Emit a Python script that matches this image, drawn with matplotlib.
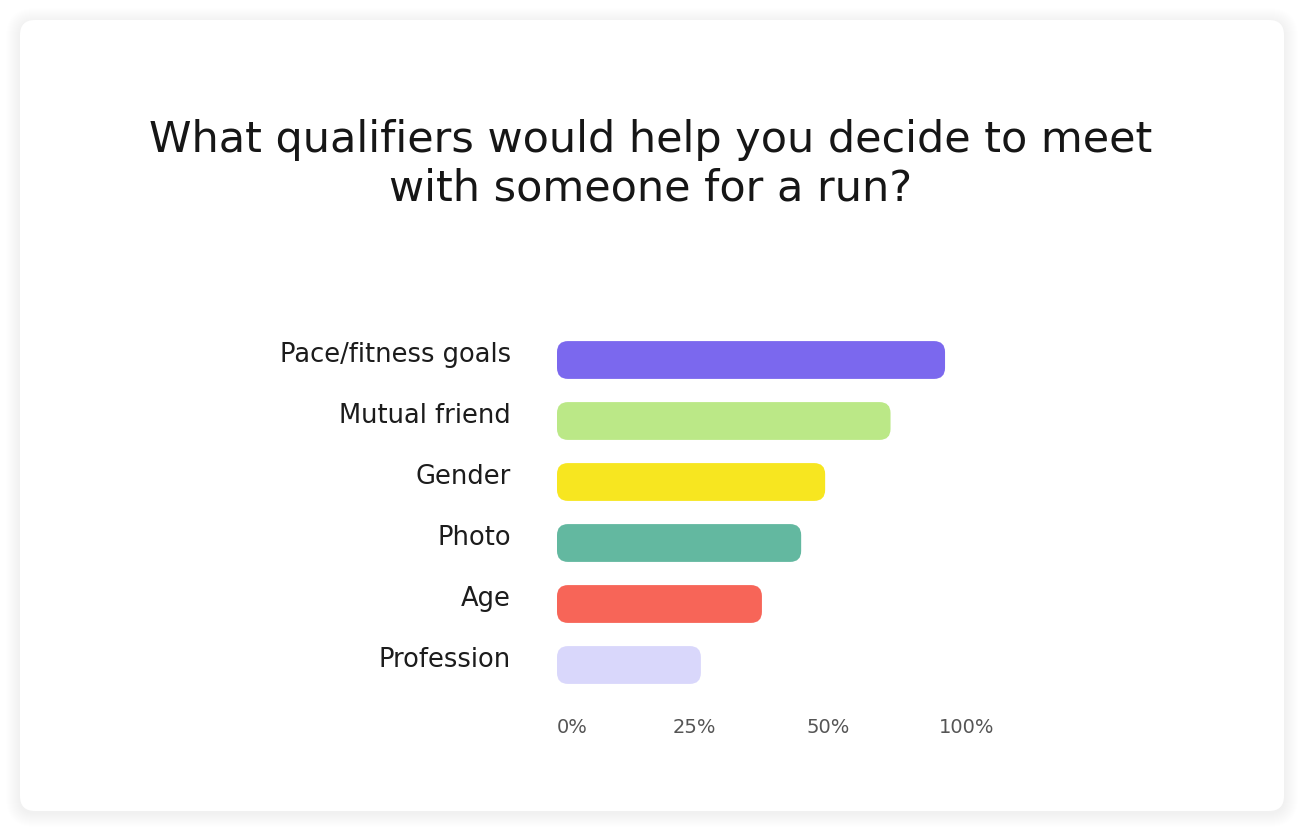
import matplotlib

matplotlib.use("Agg")
import matplotlib.pyplot as plt
from matplotlib.patches import FancyBboxPatch
from matplotlib.transforms import offset_copy

# data
categories = ["Pace/fitness goals", "Mutual friend", "Gender", "Photo", "Age", "Profession"]
values = [89, 76.5, 61.5, 56, 47, 33]
colors = ["#7B68EE", "#BBE887", "#F7E620", "#63B8A0", "#F76558", "#D9D7FB"]
tick_labels = ["0%", "25%", "50%", "100%"]
# the labels sit spread out across the axis (space-between), not on a linear scale
tick_pos = [0, 26.6, 57.3, 87.6]

title = "What qualifiers would help you decide to meet\nwith someone for a run?"

W, H, DPI = 1308, 836, 100
plt.rcParams["font.family"] = ["DejaVu Sans"]

fig = plt.figure(figsize=(W / DPI, H / DPI), dpi=DPI)
fig.patch.set_facecolor("white")

# card with a soft shadow, in pixel coordinates
px = fig.dpi_scale_trans + matplotlib.transforms.Affine2D().scale(1 / DPI)
card_x0, card_y0, card_w, card_h = 20, 836 - 811, 1264, 791
for i in range(14, 0, -1):
    fig.patches.append(FancyBboxPatch(
        (card_x0 - i, card_y0 - i - 2), card_w + 2 * i, card_h + 2 * i,
        boxstyle=f"round,pad=0,rounding_size={15 + i}",
        transform=px, facecolor="black", edgecolor="none", alpha=0.0035, zorder=-2,
    ))
fig.patches.append(FancyBboxPatch(
    (card_x0, card_y0), card_w, card_h,
    boxstyle="round,pad=0,rounding_size=15",
    transform=px, facecolor="white", edgecolor="none", zorder=-1,
))

fig.text(651 / W, 1 - 164 / H, title, ha="center", va="center",
         fontsize=31, color="#161616", linespacing=1.2)

ax = fig.add_axes([557 / W, 1 - 695.5 / H, 436 / W, 366 / H])
ax.set_facecolor("none")
ax.set_xlim(0, 100)
ax.set_ylim(len(categories) - 0.5, -0.5)

bar_h = 0.62
radius_x = 2.5
aspect = (11 / 61) / radius_x
for i, (val, col) in enumerate(zip(values, colors)):
    ax.add_patch(FancyBboxPatch(
        (0, i - bar_h / 2), val, bar_h,
        boxstyle=f"round,pad=0,rounding_size={radius_x}",
        mutation_aspect=aspect, facecolor=col, edgecolor="none",
    ))

label_tr = offset_copy(ax.transData, fig=fig, x=-46 * 0.72, y=5 * 0.72, units="points")
for i, cat in enumerate(categories):
    ax.text(0, i, cat, transform=label_tr, ha="right", va="center",
            fontsize=18.5, color="#1c1c1c")

ax.set_yticks([])
ax.set_xticks(tick_pos)
ax.set_xticklabels(tick_labels, ha="left", fontsize=14, color="#555555")
ax.tick_params(axis="x", length=0, pad=16)
for s in ax.spines.values():
    s.set_visible(False)

fig.savefig("out.png", dpi=DPI, facecolor="white")
